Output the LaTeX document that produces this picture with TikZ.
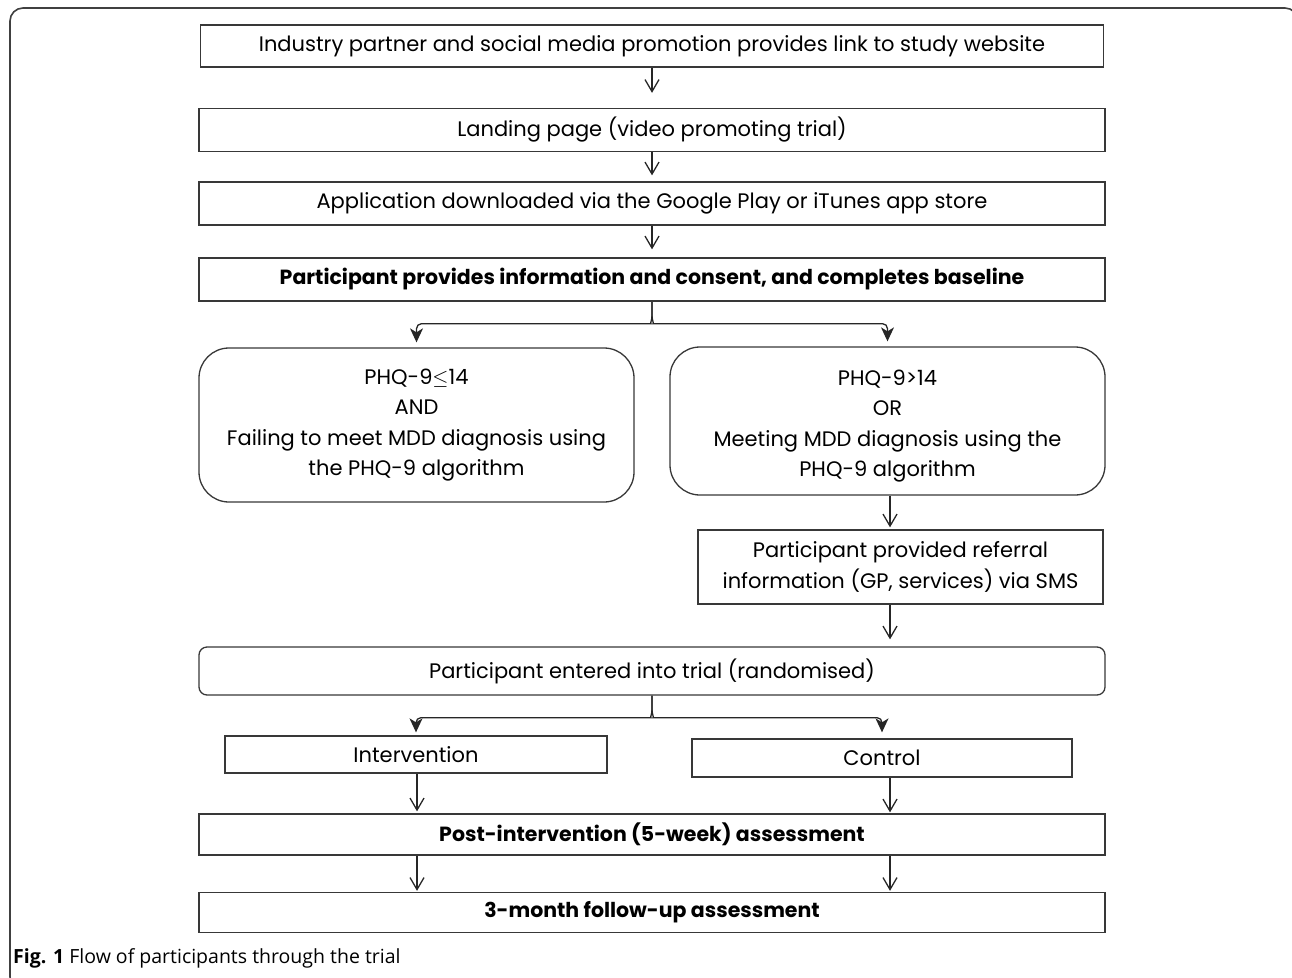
\documentclass[tikz,border=0pt]{standalone}
\usepackage{fontspec}
\setmainfont{Poppins}
\newfontfamily\capfont{Open Sans}
\usetikzlibrary{arrows.meta}
\pgfdeclarelayer{edgelayer}
\pgfdeclarelayer{nodelayer}
\pgfsetlayers{edgelayer,nodelayer,main}
\tikzset{x=1pt,y=-1pt,font=\fontsize{21}{30.5}\selectfont}
\definecolor{boxline}{gray}{0.22}
\tikzstyle{none}=[inner sep=0pt]
\tikzstyle{box}=[draw=boxline,line width=1.3pt,rectangle,inner sep=0pt,align=center]
\tikzstyle{rbox}=[box,rounded corners=30pt]
\tikzstyle{bold}=[font=\fontsize{20.5}{30.5}\selectfont\bfseries]
\tikzstyle{down}=[-{Straight Barb[length=12pt,width=14pt]},line width=1.3pt,draw=black!85]
\tikzstyle{split}=[-{Stealth[length=14pt,width=13pt,inset=4pt]},line width=1.3pt,draw=black!85,rounded corners=5pt]

\begin{document}
\begin{tikzpicture}
	\clip (0,0) rectangle (1292,977);
	\useasboundingbox (0,0) rectangle (1292,977);
	\draw [draw=black!75, line width=1.6pt, rounded corners=13pt] (10,8) rectangle (1298,990);
	\begin{pgfonlayer}{nodelayer}
		\node [style=box, minimum width=903, minimum height=42] (0) at (652,46) {Industry partner and social media promotion provides link to study website};
		\node [style=box, minimum width=906, minimum height=43] (1) at (652,130) {Landing page (video promoting trial)};
		\node [style=box, minimum width=906, minimum height=43] (2) at (652,203.5) {Application downloaded via the Google Play or iTunes app store};
		\node [style=box, style=bold, minimum width=906, minimum height=43] (3) at (652,279.5) {Participant provides information and consent, and completes baseline};
		\node [style=rbox, minimum width=435, minimum height=154] (4) at (416.5,425) {PHQ-9$\leq$14\\AND\\Failing to meet MDD diagnosis using\\the PHQ-9 algorithm};
		\node [style=rbox, minimum width=435, minimum height=148] (5) at (887.5,421) {\rule{0pt}{26pt}PHQ-9>14\\OR\\Meeting MDD diagnosis using the\\PHQ-9 algorithm};
		\node [style=box, minimum width=405, minimum height=74] (6) at (900.5,567) {Participant provided referral\\information (GP, services) via SMS};
		\node [style=box, rounded corners=8pt, minimum width=906, minimum height=48] (7) at (652,671) {Participant entered into trial (randomised)};
		\node [style=box, minimum width=382, minimum height=37] (8) at (416,754.5) {Intervention};
		\node [style=box, minimum width=380, minimum height=38] (9) at (882,758) {Control};
		\node [style=box, style=bold, minimum width=906, minimum height=41] (10) at (652,834.5) {Post-intervention (5-week) assessment};
		\node [style=box, style=bold, minimum width=906, minimum height=40] (11) at (652,912.5) {3-month follow-up assessment};
		\node [style=none, anchor=west] (12) at (13,958) {\capfont\fontsize{19.5}{22}\selectfont\textbf{Fig. 1} Flow of participants through the trial};
		\node [style=none] (13) at (417,0) {};
		\node [style=none] (14) at (890,0) {};
	\end{pgfonlayer}
	\begin{pgfonlayer}{edgelayer}
		\draw [style=down, shorten >=15pt] (0) to (1);
		\draw [style=down, shorten >=6pt] (1) to (2);
		\draw [style=down, shorten >=8pt] (2) to (3);
		\draw [style=split, shorten >=5pt] (3.south) -- ++(0,9) .. controls +(0,9) and +(4,0) .. ++(-6,13) -| (4.north);
		\draw [style=split, shorten >=5pt] (3.south) -- ++(0,9) .. controls +(0,9) and +(-4,0) .. ++(6,13) -| (5.north);
		\draw [style=down, shorten >=2pt] (5.south -| 14) to (6.north -| 14);
		\draw [style=down, shorten >=7pt] (6.south -| 14) to (7.north -| 14);
		\draw [style=split, shorten >=3pt] (7.south) -- ++(0,9) .. controls +(0,9) and +(4,0) .. ++(-6,13) -| (8.north);
		\draw [style=split, shorten >=6pt] (7.south) -- ++(0,9) .. controls +(0,9) and +(-4,0) .. ++(6,13) -| (9.north);
		\draw [style=down, shorten >=2pt] (8.south -| 13) to (10.north -| 13);
		\draw [style=down, shorten >=1pt] (9.south -| 14) to (10.north -| 14);
		\draw [style=down, shorten >=1pt] (10.south -| 13) to (11.north -| 13);
		\draw [style=down, shorten >=1pt] (10.south -| 14) to (11.north -| 14);
	\end{pgfonlayer}
\end{tikzpicture}
\end{document}
